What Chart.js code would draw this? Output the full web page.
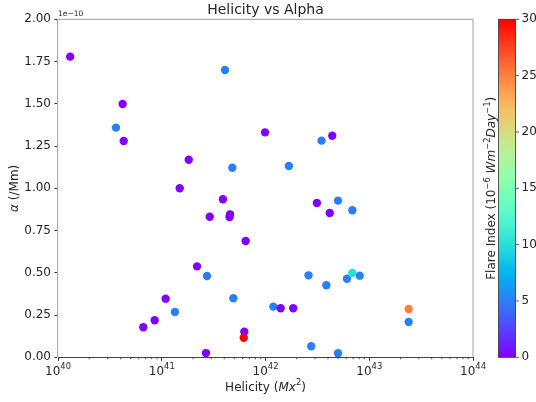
<!DOCTYPE html>
<html>
<head>
<meta charset="utf-8">
<script src="https://cdn.jsdelivr.net/npm/chart.js@4.4.0/dist/chart.umd.min.js"></script>
<style>
  html, body { margin: 0; padding: 0; background: #fff; }
  #wrap { width: 536px; height: 402px; }
</style>
</head>
<body>
<div id="wrap"><canvas id="chart" width="536" height="402"></canvas></div>
<script>
// helicity in Mx^2
const helicity = [
  1.31e40, 4.2e40, 3.62e40, 4.3e40, 4.07e41, 1.82e41, 4.79e41, 1.49e41, 9.9e41,
  3.47e42, 4.4e42, 1.68e42, 3.89e41, 2.9e41, 4.55e41, 4.5e41, 6.44e41, 2.19e41,
  2.73e41, 1.09e41, 4.9e41, 1.34e41, 8.55e40, 6.64e40, 6.25e41, 2.67e41, 1.19e42,
  3.13e42, 5.0e42, 4.16e42, 6.87e42, 2.6e42, 8.1e42, 6.1e42, 6.87e42, 3.86e42,
  1.4e42, 1.85e42, 2.4e43, 2.4e43, 2.76e42, 5.0e42, 6.17e41
];
// alpha in units of 1e-10 /Mm
const alpha = [
  1.779, 1.499, 1.359, 1.28, 1.70, 1.169, 1.122, 1.00, 1.331,
  1.282, 1.311, 1.132, 0.935, 0.832, 0.846, 0.830, 0.688, 0.538,
  0.481, 0.347, 0.349, 0.268, 0.219, 0.178, 0.151, 0.025, 0.30,
  0.913, 0.927, 0.854, 0.870, 0.485, 0.483, 0.465, 0.499, 0.426,
  0.290, 0.290, 0.286, 0.209, 0.065, 0.024, 0.116
];
// flare index in 1e-6 W m^-2 day^-1
const flare_index = [
  0, 0, 5, 0, 5, 0, 5, 0, 0,
  5, 0, 5, 0, 0, 0, 0, 0, 0,
  5, 0, 5, 5, 0, 0, 0, 0, 5,
  0, 5, 0, 5, 5, 5, 5, 10, 5,
  0, 0, 25, 5, 5, 5, 30
];
const x_major = [1e40, 1e41, 1e42, 1e43, 1e44];
const x_major_exp = ["40", "41", "42", "43", "44"];
const cb_ticks = [0, 5, 10, 15, 20, 25, 30];
const cb_max = 30;

const FONT = '"DejaVu Sans", sans-serif';
const TEXT = "#262626";

function rainbow(t) {
  t = Math.min(1, Math.max(0, t));
  const c = (v) => Math.round(255 * Math.min(1, Math.max(0, v)));
  const r = c(Math.abs(2 * t - 0.5));
  const g = c(Math.sin(Math.PI * t));
  const b = c(Math.cos(Math.PI * t / 2));
  return `rgb(${r},${g},${b})`;
}

function fontStr(size, italic) {
  return (italic ? "italic " : "") + size + "px " + FONT;
}

function richWidth(ctx, parts, size) {
  let w = 0;
  for (const p of parts) {
    ctx.font = fontStr(p.sup ? size * 0.7 : size, p.it);
    w += ctx.measureText(p.t).width;
  }
  return w;
}

function drawRich(ctx, parts, x, y, size) {
  let cx = x - richWidth(ctx, parts, size) / 2;
  ctx.textAlign = "left";
  ctx.textBaseline = "alphabetic";
  ctx.fillStyle = TEXT;
  for (const p of parts) {
    ctx.font = fontStr(p.sup ? size * 0.7 : size, p.it);
    ctx.fillText(p.t, cx, p.sup ? y - size * 0.45 : y);
    cx += ctx.measureText(p.t).width;
  }
}

function drawRichRotated(ctx, parts, x, y, size) {
  ctx.save();
  ctx.translate(x, y);
  ctx.rotate(-Math.PI / 2);
  drawRich(ctx, parts, 0, 0, size);
  ctx.restore();
}

const decorations = {
  id: "decorations",
  afterDraw(chart) {
    const ctx = chart.ctx;
    const area = chart.chartArea;
    const xs = chart.scales.x;
    const cb = chart.scales.cb;

    ctx.save();
    // top and right spines
    ctx.strokeStyle = "#b0b0b0";
    ctx.lineWidth = 1.2;
    ctx.beginPath();
    ctx.moveTo(area.left, area.top);
    ctx.lineTo(area.right, area.top);
    ctx.lineTo(area.right, area.bottom);
    ctx.stroke();

    // minor x ticks
    ctx.strokeStyle = "#333";
    ctx.lineWidth = 0.8;
    for (let n = 40; n < 44; n++) {
      for (let k = 2; k < 10; k++) {
        const px = xs.getPixelForValue(k * Math.pow(10, n));
        ctx.beginPath();
        ctx.moveTo(px, area.bottom);
        ctx.lineTo(px, area.bottom + 2);
        ctx.stroke();
      }
    }

    // x tick labels
    x_major.forEach((v, i) => {
      drawRich(ctx, [{ t: "10" }, { t: x_major_exp[i], sup: true }],
        xs.getPixelForValue(v), 374.5, 12);
    });

    // colorbar
    const cbLeft = 498.5, cbRight = 515.5;
    const grad = ctx.createLinearGradient(0, area.bottom, 0, area.top);
    for (let i = 0; i <= 30; i++) grad.addColorStop(i / 30, rainbow(i / 30));
    ctx.fillStyle = grad;
    ctx.fillRect(cbLeft, area.top, cbRight - cbLeft, area.bottom - area.top);
    ctx.strokeStyle = "#333";
    ctx.lineWidth = 0.8;
    ctx.strokeRect(cbLeft, area.top, cbRight - cbLeft, area.bottom - area.top);
    ctx.fillStyle = TEXT;
    ctx.font = fontStr(12, false);
    ctx.textAlign = "left";
    ctx.textBaseline = "middle";
    cb_ticks.forEach((v) => {
      const py = cb.getPixelForValue(v);
      ctx.beginPath();
      ctx.moveTo(cbRight, py);
      ctx.lineTo(cbRight + 3.5, py);
      ctx.stroke();
      ctx.fillText(String(v), cbRight + 6, py);
    });

    // title
    ctx.fillStyle = TEXT;
    ctx.font = fontStr(14, false);
    ctx.textAlign = "center";
    ctx.textBaseline = "alphabetic";
    ctx.fillText("Helicity vs Alpha", (area.left + area.right) / 2, 13.5);

    // offset text
    ctx.font = fontStr(7.5, false);
    ctx.textAlign = "left";
    ctx.fillText("1e\u221210", area.left, 16);

    // axis labels
    drawRich(ctx, [{ t: "Helicity (" }, { t: "Mx", it: true }, { t: "2", sup: true }, { t: ")" }],
      (area.left + area.right) / 2, 390.5, 12);
    drawRichRotated(ctx, [{ t: "\u03b1", it: true }, { t: " (/Mm)" }],
      18, (area.top + area.bottom) / 2, 12);
    drawRichRotated(ctx, [
      { t: "Flare Index (" }, { t: "10" }, { t: "\u22126", sup: true }, { t: " " },
      { t: "Wm", it: true }, { t: "\u22122", sup: true }, { t: "Day", it: true },
      { t: "\u22121", sup: true }, { t: ")" }
    ], 495, (area.top + area.bottom) / 2, 12);
    ctx.restore();
  }
};

const points = helicity.map((h, i) => ({ x: h, y: alpha[i] }));

new Chart(document.getElementById("chart"), {
  type: "scatter",
  data: {
    datasets: [{
      data: points,
      pointRadius: 4.2,
      pointHoverRadius: 4.2,
      pointBorderWidth: 0,
      pointBackgroundColor: flare_index.map((f) => rainbow(f / cb_max)),
    }],
  },
  options: {
    responsive: false,
    animation: false,
    events: [],
    layout: { padding: { top: 19.3, left: 0, right: 0, bottom: 0 } },
    plugins: { legend: { display: false }, tooltip: { enabled: false } },
    scales: {
      x: {
        type: "logarithmic",
        position: "bottom",
        min: 1e40,
        max: 1e44,
        afterBuildTicks: (scale) => { scale.ticks = x_major.map((v) => ({ value: v })); },
        afterFit: (scale) => { scale.height = 44.7; },
        ticks: { display: false },
        grid: { drawOnChartArea: false, drawTicks: true, tickLength: 3.5, color: "#333", tickColor: "#333", tickWidth: 1 },
        border: { color: "#444", width: 1 },
      },
      y: {
        type: "linear",
        position: "left",
        min: 0,
        max: 2,
        afterFit: (scale) => { scale.width = 58; },
        ticks: {
          stepSize: 0.25,
          padding: 3.5,
          color: TEXT,
          font: { family: FONT, size: 12 },
          callback: (v) => v.toFixed(2),
        },
        grid: { drawOnChartArea: false, drawTicks: true, tickLength: 3.5, color: "#333", tickColor: "#333", tickWidth: 1 },
        border: { color: "#b0b0b0", width: 1.2 },
      },
      cb: {
        type: "linear",
        axis: "y",
        position: "right",
        min: 0,
        max: cb_max,
        afterFit: (scale) => { scale.width = 63; },
        ticks: { display: false },
        grid: { display: false, drawTicks: false },
        border: { display: false },
      },
    },
  },
  plugins: [decorations],
});
</script>
</body>
</html>
